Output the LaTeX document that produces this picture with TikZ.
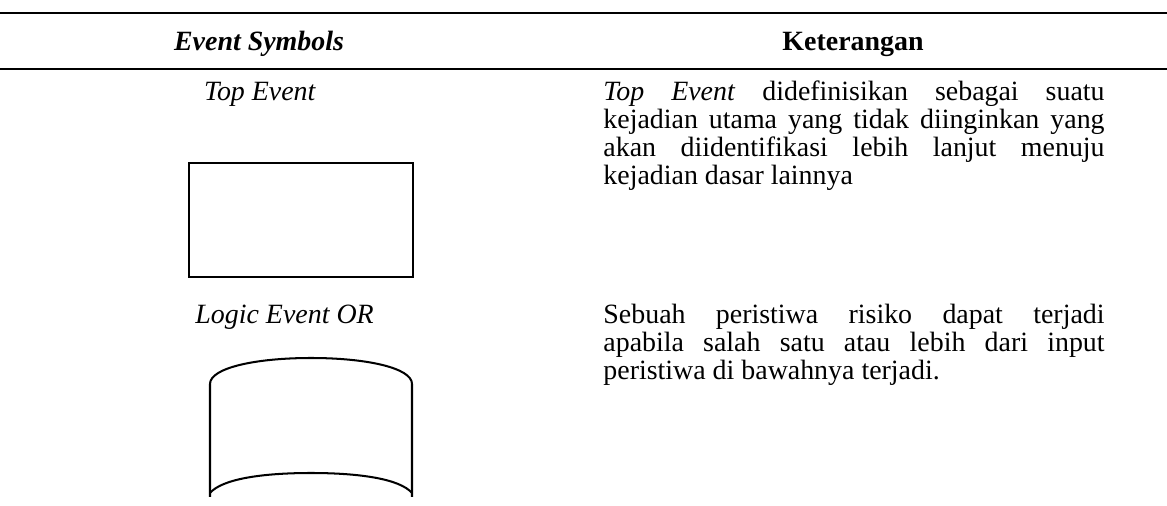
\documentclass[tikz,border=0pt]{standalone}
\usepackage{fontspec}
\setmainfont{Liberation Serif}
\usetikzlibrary{calc}

\newlength{\colw}
\setlength{\colw}{222.7pt}

\begin{document}
\begin{tikzpicture}[x=0.4444pt, y=-0.4444pt,
	rule/.style={line width=1.3pt},
	symline/.style={line width=1.2pt},
	cell/.style={inner sep=0pt, anchor=base, font=\fontsize{12.4}{14}\selectfont},
	desc/.style={inner sep=0pt, anchor=base west, font=\fontsize{12.4}{14}\selectfont}]
			%%%%% START %%%%%
			\useasboundingbox (0,0) rectangle (1167,506);
			
			\draw[rule] (0,13) -- (1167,13);
			\draw[rule] (0,69) -- (1167,69);
			
			\node[cell] (hsym) at (259,51) {\textbf{\textit{Event Symbols}}};
			\node[cell] (hket) at (853,51) {\textbf{Keterangan}};
			
			% top event row
			\node[cell] (topname) at (260,101) {\textit{Top Event}};
			\draw[symline] (189,163) rectangle (413,277);
			
			\node[desc] (topa) at (603,101) {\makebox[\colw][s]{\textit{Top Event} didefinisikan sebagai suatu}};
			\node[desc] (topb) at (603,129) {\makebox[\colw][s]{kejadian utama yang tidak diinginkan yang}};
			\node[desc] (topc) at (603,157) {\makebox[\colw][s]{akan diidentifikasi lebih lanjut menuju}};
			\node[desc] (topd) at (603,185) {kejadian dasar lainnya};
			
			% or event row
			\node[desc] (orname) at (195,324) {\textit{Logic Event OR}};
			\draw[line width=0.9pt] (210,497) -- (210,384) .. controls (210,368) and (255,358) .. (311,358) .. controls (367,358) and (412,368) .. (412,384) -- (412,497);
			\draw[line width=0.9pt] (210,493) .. controls (222,479) and (262,473) .. (311,473) .. controls (360,473) and (400,479) .. (412,493);
			
			\node[desc] (ora) at (603,324) {\makebox[\colw][s]{Sebuah peristiwa risiko dapat terjadi}};
			\node[desc] (orb) at (603,352) {\makebox[\colw][s]{apabila salah satu atau lebih dari input}};
			\node[desc] (orc) at (603,380) {peristiwa di bawahnya terjadi.};
			%%%%% END %%%%%
\end{tikzpicture}
\end{document}
